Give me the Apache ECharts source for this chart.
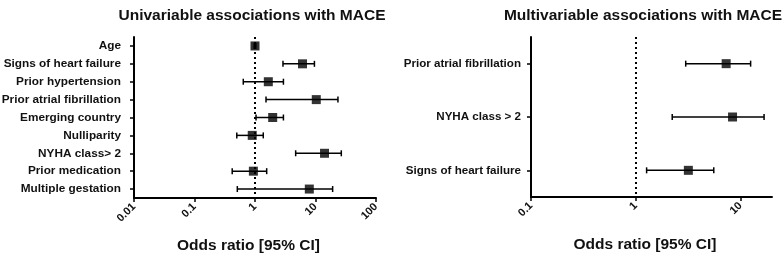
<!DOCTYPE html>
<html>
<head>
<meta charset="utf-8">
<script src="https://cdn.jsdelivr.net/npm/echarts@6/dist/echarts.min.js"></script>
<style>
  html, body { margin: 0; padding: 0; background: #fff; }
  #chart { width: 782px; height: 253px; }
</style>
</head>
<body>
<div id="chart"></div>
<script>
// univariable
const uniLabels = ['Age', 'Signs of heart failure', 'Prior hypertension', 'Prior atrial fibrillation',
  'Emerging country', 'Nulliparity', 'NYHA class> 2', 'Prior medication', 'Multiple gestation']
const uniOR = [1.0, 6.1, 1.66, 10.3, 1.96, 0.9, 14.1, 0.94, 7.9]
const uniLow = [0.97, 2.9, 0.64, 1.52, 1.04, 0.5, 4.7, 0.42, 0.51]
const uniHigh = [1.03, 9.6, 2.95, 23.5, 2.95, 1.37, 26.7, 1.56, 19.2]
const uniTicks = [0.01, 0.1, 1, 10, 100]

// multivariable
const multiLabels = ['Prior atrial fibrillation', 'NYHA class > 2', 'Signs of heart failure']
const multiOR = [7.3, 8.4, 3.18]
const multiLow = [3.0, 2.23, 1.27]
const multiHigh = [12.5, 16.8, 5.56]
const multiTicks = [0.1, 1, 10]

const font = 'Liberation Sans, Arial, sans-serif'

function errorBars(low, high) {
  return low.map((v, i) => [i, v, high[i]])
}

function renderBar(params, api) {
  const idx = api.value(0)
  const a = api.coord([api.value(1), idx])
  const b = api.coord([api.value(2), idx])
  const cap = 3
  const style = { stroke: '#000', lineWidth: 1.5 }
  return {
    type: 'group',
    children: [
      { type: 'line', shape: { x1: a[0], y1: a[1], x2: b[0], y2: b[1] }, style: style },
      { type: 'line', shape: { x1: a[0], y1: a[1] - cap, x2: a[0], y2: a[1] + cap }, style: style },
      { type: 'line', shape: { x1: b[0], y1: b[1] - cap, x2: b[0], y2: b[1] + cap }, style: style }
    ]
  }
}

function xAxisFor(gridIndex, min, max, ticks) {
  return {
    type: 'log', gridIndex: gridIndex, min: min, max: max, logBase: 10,
    name: 'Odds ratio [95% CI]', nameLocation: 'middle', nameGap: 40,
    nameTextStyle: { fontFamily: font, fontWeight: 'bold', fontSize: 15.5, color: '#111', padding: [0, 13, 0, 0] },
    axisLine: { show: true, onZero: false, lineStyle: { color: '#000', width: 2 } },
    axisTick: { show: true, length: 4, lineStyle: { color: '#000', width: 1.5 }, customValues: ticks },
    axisLabel: { rotate: 45, fontFamily: font, fontWeight: 'bold', fontSize: 11, color: '#111', margin: 7,
      customValues: ticks, formatter: v => String(+(+v).toPrecision(3)) },
    splitLine: { show: false },
    minorTick: { show: false }
  }
}

function yAxisFor(gridIndex, labels, margin, size) {
  return {
    type: 'category', gridIndex: gridIndex, data: labels, inverse: true,
    axisLine: { show: true, onZero: false, lineStyle: { color: '#000', width: 2 } },
    axisTick: { show: true, alignWithLabel: true, length: 4, lineStyle: { color: '#000', width: 1.5 } },
    axisLabel: { fontFamily: font, fontWeight: 'bold', fontSize: size, color: '#111', margin: margin },
    splitLine: { show: false }
  }
}

const myChart = echarts.init(document.getElementById('chart'))
const option = {
  animation: false,
  title: [
    { text: 'Univariable associations with MACE', left: 247, top: 3, textAlign: 'center',
      textStyle: { fontFamily: font, fontWeight: 'bold', fontSize: 15.5, color: '#111' } },
    { text: 'Multivariable associations with MACE', left: 638, top: 3, textAlign: 'center',
      textStyle: { fontFamily: font, fontWeight: 'bold', fontSize: 15.5, color: '#111' } }
  ],
  grid: [
    { left: 134, top: 37, width: 242, height: 161, outerBoundsMode: 'none' },
    { left: 531, top: 37, width: 241, height: 160, outerBoundsMode: 'none' }
  ],
  xAxis: [xAxisFor(0, 0.01, 100, uniTicks), xAxisFor(1, 0.1, 20, multiTicks)],
  yAxis: [yAxisFor(0, uniLabels, 13, 11.8), yAxisFor(1, multiLabels, 10, 11.6)],
  series: [
    {
      type: 'custom', xAxisIndex: 0, yAxisIndex: 0,
      data: errorBars(uniLow, uniHigh), renderItem: renderBar,
      encode: { x: [1, 2], y: 0 }, z: 2,
      markLine: {
        silent: true, symbol: 'none', label: { show: false },
        lineStyle: { color: '#000', type: [2, 3], width: 2 },
        data: [{ xAxis: 1 }]
      }
    },
    {
      type: 'scatter', xAxisIndex: 0, yAxisIndex: 0, symbol: 'rect', symbolSize: 9,
      itemStyle: { color: '#000' }, z: 3,
      data: uniOR.map((v, i) => [v, i])
    },
    {
      type: 'custom', xAxisIndex: 1, yAxisIndex: 1,
      data: errorBars(multiLow, multiHigh), renderItem: renderBar,
      encode: { x: [1, 2], y: 0 }, z: 2,
      markLine: {
        silent: true, symbol: 'none', label: { show: false },
        lineStyle: { color: '#000', type: [2, 3], width: 2 },
        data: [{ xAxis: 1 }]
      }
    },
    {
      type: 'scatter', xAxisIndex: 1, yAxisIndex: 1, symbol: 'rect', symbolSize: 9,
      itemStyle: { color: '#000' }, z: 3,
      data: multiOR.map((v, i) => [v, i])
    }
  ]
}
myChart.setOption(option)
</script>
</body>
</html>
